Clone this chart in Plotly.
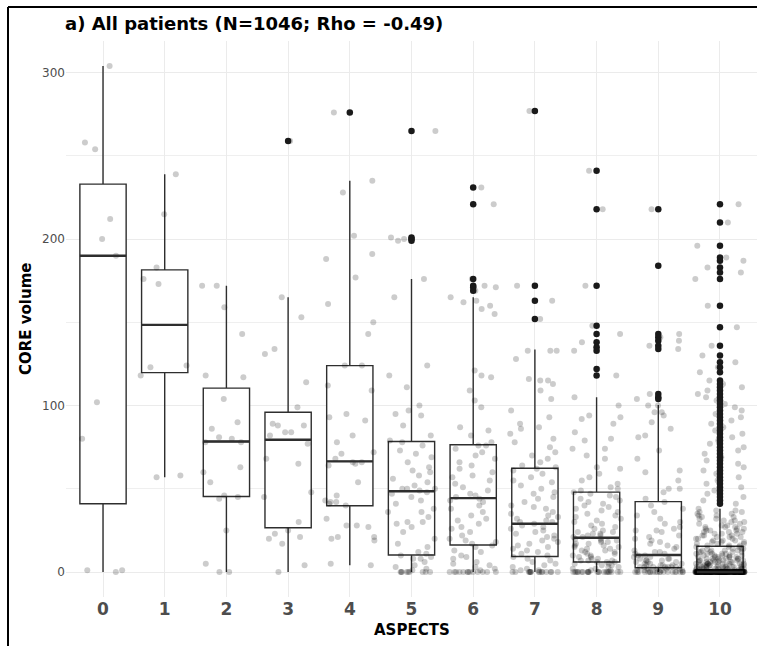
import plotly.graph_objects as go

# ---------------- data ----------------
aspects = list(range(11))
tick_labels = [str(a) for a in aspects]

# CORE volume values per ASPECTS score (non-zero values), plus the count of zeros
core_0 = [304, 258, 254, 212, 200, 190, 102, 80, 1, 1]
core_1 = [239, 215, 183, 176, 173, 124, 123, 118, 58, 57]
core_2 = [172, 172, 159, 143, 118, 117, 104, 90, 86, 81, 80, 78, 78, 63, 60, 54, 46, 45, 44, 25, 5]
core_3 = [259, 165, 153, 134, 131, 114, 99, 89, 88, 88, 84, 84, 82, 77, 68, 65, 48, 45, 30, 25,
          23, 21, 20, 17, 4]
core_4 = [276, 235, 228, 202, 191, 188, 177, 161, 150, 143, 124, 124, 112, 109, 95, 93, 91, 82, 78, 72,
          71, 68, 66, 66, 65, 64, 54, 46, 43, 42, 42, 41, 40, 32, 28, 28, 27, 21, 21, 20, 19, 5, 4]
core_5 = [265, 201, 200, 199, 176, 165, 124, 118, 111, 100, 97, 95, 94, 88, 82, 79, 78, 76, 73, 71,
          69, 66, 63, 61, 60, 58, 56, 54, 52, 50, 50, 50, 49, 48, 47, 45, 43, 41, 38, 36,
          36, 33, 30, 30, 29, 27, 24, 20, 17, 15, 12, 11, 10, 9, 8, 8, 6, 4, 3, 2, 1]
core_6 = [231, 221, 176, 172, 171, 169, 165, 163, 162, 160, 158, 155, 121, 118, 117, 109, 103, 99, 87, 85,
          82, 78, 76, 76, 74, 72, 70, 68, 66, 64, 62, 60, 58, 57, 55, 53, 51, 49, 47, 46,
          45, 44, 43, 42, 40, 38, 36, 34, 32, 31, 29, 27, 26, 24, 22, 20, 19, 18, 17, 16,
          15, 13, 12, 10, 9, 8, 6, 5, 4, 3, 2, 1]
core_7 = [277, 172, 163, 152, 133, 133, 133, 128, 116, 115, 115, 113, 109, 104, 97, 93, 89, 87, 86, 83,
          80, 78, 75, 72, 70, 68, 66, 64, 63, 62, 61, 59, 57, 55, 54, 52, 50, 48, 47, 45,
          44, 42, 40, 39, 38, 36, 35, 34, 33, 32, 31, 30, 30, 29, 28, 27, 26, 25, 24, 23,
          22, 21, 20, 19, 18, 17, 16, 15, 14, 13, 12, 11, 10, 9, 8, 7, 6, 5, 4, 3, 2, 1, 1]
core_8 = [241, 218, 172, 148, 143, 138, 135, 133, 122, 118, 105, 100, 94, 93, 92, 89, 84, 80, 79, 74,
          74, 70, 68, 63, 62, 59, 57, 55, 53, 51, 50, 49, 48, 47, 46, 45, 44, 43, 42, 41,
          40, 39, 38, 37, 36, 35, 34, 33, 32, 31, 30, 29, 28, 27, 26, 25, 24, 24, 23, 23,
          22, 22, 21, 21, 20, 20, 19, 19, 18, 18, 17, 17, 16, 16, 15, 15, 14, 14, 13, 13,
          12, 12, 11, 11, 10, 10, 9, 9, 8, 8, 7, 7, 7, 6, 6, 6, 5, 5, 4, 4, 3, 3, 2, 2, 1, 1]
core_9 = [218, 184, 143, 141, 139, 136, 134, 107, 105, 104, 100, 100, 96, 96, 94, 90, 86, 82, 81, 73,
          68, 61, 60, 55, 50, 50, 48, 44, 42, 40, 38, 36, 34, 32, 30, 29, 27, 26, 25, 25,
          24, 22, 21, 20, 19, 18, 17, 16, 15, 14, 13, 12, 12, 11, 11, 10, 10, 9, 9, 8,
          8, 8, 7, 7, 7, 6, 6, 6, 5, 5, 5, 4, 4, 4, 4, 3, 3, 3, 3, 3, 3, 3, 2, 2, 2, 2, 1, 1, 1, 1]
core_10 = [221, 210, 196, 189, 187, 183, 180, 176, 160, 147, 136, 130, 126, 123, 120, 115, 113, 111, 109, 107,
           105, 103, 101, 99, 97, 95, 93, 91, 89, 87, 85, 83, 81, 79, 77, 75, 73, 71, 69, 67,
           65, 63, 61, 59, 57, 55, 53, 51, 49, 47, 45, 43, 41,
           38, 37, 37, 36, 36, 35, 35, 34, 34, 33, 33, 32, 32, 31, 31, 30, 30, 29, 29, 28, 28,
           27, 27, 27, 26, 26, 26, 25, 25, 25, 24, 24, 24, 23, 23, 23, 22, 22, 22, 21, 21, 21,
           20, 20, 20, 19, 19, 19, 18, 18, 18, 17, 17, 17, 16, 16, 16,
           15, 15, 15, 14, 14, 14, 14, 13, 13, 13, 13, 12, 12, 12, 12, 12, 11, 11, 11, 11, 11,
           10, 10, 10, 10, 10, 9, 9, 9, 9, 9, 9, 8, 8, 8, 8, 8, 8, 7, 7, 7, 7, 7, 7, 7,
           6, 6, 6, 6, 6, 6, 6, 5, 5, 5, 5, 5, 5, 5, 5, 4, 4, 4, 4, 4, 4, 4, 4, 4,
           3, 3, 3, 3, 3, 3, 3, 3, 3, 3, 2, 2, 2, 2, 2, 2, 2, 2, 2, 2, 2,
           1, 1, 1, 1, 1, 1, 1, 1, 1, 1, 1, 1]
zero_counts = [1, 0, 2, 1, 0, 9, 13, 15, 22, 20, 230]

# box statistics
q1 = [41, 119.8, 45.4, 26.6, 39.8, 10.2, 16.2, 9.3, 6, 2.6, 0]
medians = [190, 148.5, 78.4, 79.5, 66.5, 48.5, 44.4, 29, 20.6, 10.2, 0]
q3 = [233, 181.5, 110.5, 96, 124, 78.4, 76.5, 62.3, 48, 42.3, 15.5]
lower_fence = [0, 57, 0, 0, 4, 0, 0, 0, 0, 0, 0]
upper_fence = [304, 239, 172, 165, 235, 176, 165, 133.7, 105, 100.3, 38]

groups = [core_0, core_1, core_2, core_3, core_4, core_5, core_6, core_7, core_8, core_9, core_10]
samples = [g + [0] * z for g, z in zip(groups, zero_counts)]

# ---------------- styles ----------------
FONT = "DejaVu Sans"
BOX_LINE = "#2e2e2e"
GRID = "#ebebeb"
BOX_W = 0.75
JITTER_W = 0.8

fig = go.Figure()

# boxes (white fill)
fig.add_trace(go.Box(
    x=aspects, q1=q1, median=medians, q3=q3,
    lowerfence=lower_fence, upperfence=upper_fence,
    width=BOX_W, whiskerwidth=0, fillcolor="white",
    line=dict(color=BOX_LINE, width=1.4),
    boxpoints=False, hoverinfo="skip", showlegend=False,
))

# jittered points (invisible helper box; very wide IQR keeps the jitter uniform)
wide = 10000
fig.add_trace(go.Box(
    x=aspects, y=samples,
    q1=[m - wide for m in medians], median=medians, q3=[m + wide for m in medians],
    lowerfence=medians, upperfence=medians,
    width=JITTER_W, whiskerwidth=0,
    fillcolor="rgba(0,0,0,0)", line=dict(color="rgba(0,0,0,0)", width=0),
    boxpoints="all", jitter=1, pointpos=0,
    marker=dict(color="rgba(0,0,0,0.2)", size=6, line=dict(width=0)),
    hoverinfo="skip", showlegend=False,
))

# outliers (beyond the whiskers), drawn at the box centre
out_x, out_y = [], []
for a, s, lo, hi in zip(aspects, samples, lower_fence, upper_fence):
    for v in s:
        if v > hi or v < lo:
            out_x.append(a)
            out_y.append(v)
fig.add_trace(go.Scatter(
    x=out_x, y=out_y, mode="markers",
    marker=dict(color="#1a1a1a", size=6.5, line=dict(width=0)),
    hoverinfo="skip", showlegend=False,
))

# thicker median lines
mx, my = [], []
for a, m in zip(aspects, medians):
    mx += [a - BOX_W / 2, a + BOX_W / 2, None]
    my += [m, m, None]
fig.add_trace(go.Scatter(
    x=mx, y=my, mode="lines", line=dict(color=BOX_LINE, width=2.4),
    hoverinfo="skip", showlegend=False,
))

W, H = 757, 646
ML, MR, MT, MB = 66, 0, 41, 49
PW, PH = W - ML - MR, H - MT - MB
FRAME_X = (8 - ML) / PW
FRAME_Y = 1 + (MT - 7) / PH

fig.update_layout(
    width=W, height=H,
    margin=dict(l=ML, r=MR, t=MT, b=MB),
    paper_bgcolor="white", plot_bgcolor="white",
    showlegend=False,
    font=dict(family=FONT, color="#4d4d4d"),
    title=dict(
        text="a) All patients (N=1046; Rho = -0.49)",
        xref="container", x=65 / W, xanchor="left",
        yref="container", y=1 - 24 / H, yanchor="middle",
        font=dict(family=FONT, size=18, color="black", weight="bold"),
    ),
    xaxis=dict(
        range=[-0.6, 10.6], tickmode="array", tickvals=aspects, ticktext=tick_labels,
        tickfont=dict(family=FONT, size=17, color="#4d4d4d", weight="bold"),
        showgrid=True, gridcolor=GRID, gridwidth=1.1,
        zeroline=False, showline=False, ticks="",
    ),
    yaxis=dict(
        range=[-15, 319], tickmode="array", tickvals=[0, 100, 200, 300],
        tickfont=dict(family=FONT, size=12, color="#4d4d4d"),
        showgrid=True, gridcolor=GRID, gridwidth=1.1,
        minor=dict(tickvals=[50, 150, 250], showgrid=True, gridcolor="#efefef", gridwidth=1),
        zeroline=False, showline=False, ticks="",
    ),
    annotations=[
        dict(text="ASPECTS", xref="paper", yref="paper", x=0.5, y=(H - MB - 630) / PH,
             xanchor="center", yanchor="middle", showarrow=False,
             font=dict(family=FONT, size=15, color="black", weight="bold")),
        dict(text="CORE volume", xref="paper", yref="paper", x=(26 - ML) / PW, y=0.5,
             xanchor="center", yanchor="middle", showarrow=False, textangle=-90,
             font=dict(family=FONT, size=15, color="black", weight="bold")),
    ],
    shapes=[
        dict(type="line", xref="paper", yref="paper",
             x0=FRAME_X, x1=FRAME_X, y0=-0.3, y1=FRAME_Y,
             line=dict(color="black", width=2), layer="above"),
        dict(type="line", xref="paper", yref="paper",
             x0=FRAME_X, x1=1.2, y0=FRAME_Y, y1=FRAME_Y,
             line=dict(color="black", width=2), layer="above"),
    ],
)

fig.write_html("out.html")
